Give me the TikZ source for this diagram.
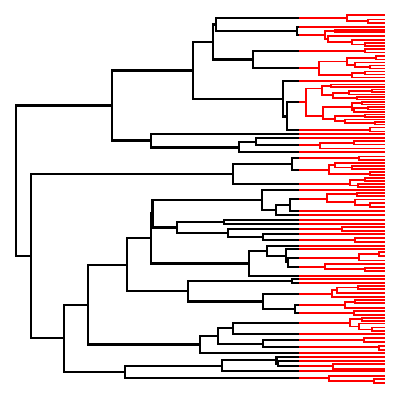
\documentclass[tikz,border=0pt]{standalone}
\usetikzlibrary{calc}
\def\xcut{299}
\def\xtip{384.5}
\tikzset{blk/.style={black,line width=1.65pt},rd/.style={red,line width=1.3pt}}
% bracket: x, y1, x1, y2, x2
\newcommand{\bb}[5]{\draw[blk] (#3,#2) -- (#1,#2) -- (#1,#4) -- (#5,#4);}
\newcommand{\rb}[5]{\draw[rd] (#3,#2) -- (#1,#2) -- (#1,#4) -- (#5,#4);}
\newcommand{\rr}[2]{\draw[rd] (\xcut,#1) -- (#2,#1);}
\newcommand{\rt}[1]{\draw[rd] (\xcut,#1) -- (\xtip,#1);}
\begin{document}
\begin{tikzpicture}[x=0.25mm,y=-0.25mm]
\useasboundingbox (0,0) rectangle (400,399);
% ---------------- red subtrees ----------------
% R1
\rr{18}{347} \rb{347}{15}{\xtip}{21.25}{368} \rb{368}{19.5}{\xtip}{23}{\xtip}
% R2
\rt{27.3}
% R3
\rr{35}{325} \rb{325}{31}{335}{39}{328} \rb{335}{29.8}{\xtip}{32.3}{\xtip}
\rb{328}{36}{\xtip}{42}{352} \rb{352}{40}{\xtip}{44.5}{365} \rb{365}{43}{\xtip}{46}{\xtip}
% R4
\rr{50.7}{365} \rb{365}{49}{\xtip}{52.5}{\xtip}
% R5
\rr{68}{319} \rb{319}{61.5}{347}{75}{352} \rb{347}{58}{376}{64.75}{355}
\rb{376}{56.3}{\xtip}{59.5}{\xtip} \rb{355}{62.5}{\xtip}{67}{370} \rb{370}{65.5}{\xtip}{68.5}{\xtip}
\rb{352}{73}{365}{77.5}{\xtip} \rb{365}{71.5}{\xtip}{74.5}{\xtip}
% R6
\rt{81.3}
% R7
\rr{102}{306} \rb{306}{88.5}{322}{116}{323}
\rb{322}{85.75}{331}{95.4}{333} \rb{331}{84.5}{\xtip}{87}{\xtip}
\rb{333}{92.6}{349}{98.25}{357} \rb{349}{90.75}{372}{94.5}{\xtip}
\rb{372}{89.5}{\xtip}{92}{\xtip} \rb{357}{97}{\xtip}{99.5}{\xtip}
\rb{323}{106.7}{352}{118.6}{335} \rb{352}{103.25}{362}{110.1}{354}
\rb{362}{102}{\xtip}{104.5}{\xtip} \rb{354}{108.25}{368}{112}{\xtip}
\rb{368}{107}{\xtip}{109.5}{\xtip} \rb{335}{115.75}{365}{121.4}{345}
\rb{365}{114.5}{\xtip}{117}{\xtip} \rb{345}{119.5}{\xtip}{123.25}{375}
\rb{375}{122}{\xtip}{124.5}{\xtip}
% R8-R12
\rr{129.7}{370} \rb{370}{127.5}{\xtip}{131.5}{\xtip}
\rt{134.3}
\rt{138}
\rr{145.3}{320} \rb{320}{143}{354}{148.5}{\xtip} \rb{354}{141.3}{\xtip}{144.5}{\xtip}
\rt{152.3}
% R13-R15
\rr{158}{359} \rb{359}{156.5}{\xtip}{160}{\xtip}
\rr{170}{329} \rb{329}{165}{335}{173.6}{370} \rb{335}{163}{\xtip}{167.5}{352}
\rb{352}{166}{\xtip}{169}{\xtip} \rb{370}{172}{\xtip}{175.3}{\xtip}
\rr{183.7}{350} \rb{350}{179.6}{365}{185.5}{358} \rb{365}{178.3}{\xtip}{181}{\xtip}
\rb{358}{184}{\xtip}{187}{\xtip}
% R16-R21
\rt{189.8}
\rr{199.3}{327} \rb{327}{194.3}{357}{202.4}{355} \rb{357}{192.8}{\xtip}{195.8}{\xtip}
\rb{355}{199.5}{\xtip}{205.3}{370} \rb{370}{203.3}{\xtip}{207.3}{\xtip}
\rt{211.3}
\rt{215.3}
\rt{219.7}
\rt{223.7}
% R22-R31
\rr{229.3}{342} \rb{342}{227}{\xtip}{231.3}{\xtip}
\rt{234.3}
\rr{240}{355} \rb{355}{237.6}{\xtip}{242.2}{\xtip}
\rt{246}
\rt{249.3}
\rr{257.7}{359} \rb{359}{254.3}{379}{260.5}{\xtip} \rb{379}{252.3}{\xtip}{256.3}{\xtip}
\rr{266.7}{325} \rb{325}{264.3}{\xtip}{269.3}{365} \rb{365}{267.6}{\xtip}{271}{\xtip}
\rt{276}
\rt{279.3}
\rt{282.7}
% R32-R44
\rr{294}{332} \rb{332}{290}{337}{297.3}{\xtip} \rb{337}{287.5}{358}{292.6}{\xtip}
\rb{358}{285.8}{\xtip}{289.2}{\xtip}
\rr{305}{345} \rb{345}{301.7}{355}{308}{\xtip} \rb{355}{300}{\xtip}{303.4}{\xtip}
\rr{313.3}{354} \rb{354}{311.3}{\xtip}{314.8}{\xtip}
\rr{322.7}{350} \rb{350}{319.3}{362}{326.5}{359} \rb{362}{318}{\xtip}{320.8}{\xtip}
\rb{359}{323.5}{\xtip}{329.5}{372} \rb{372}{327.5}{\xtip}{331}{\xtip}
\rt{334.3}
\rr{340}{364} \rb{364}{338}{\xtip}{342.3}{\xtip}
\rr{347.3}{379} \rb{379}{345.6}{\xtip}{349.6}{\xtip}
\rt{353.3}
\rt{356.7}
\rt{360.7}
\rr{366.3}{333} \rb{333}{364}{\xtip}{369}{\xtip}
\rt{371.3}
\rr{378}{329} \rb{329}{375.6}{\xtip}{381}{374} \rb{374}{379}{\xtip}{383}{\xtip}
% ---------------- black backbone ----------------
\bb{16}{105.5}{112}{256}{31}
\bb{112}{70.5}{193}{140.5}{151}
\bb{193}{41.7}{213}{99}{283}
\bb{213}{24.5}{216}{59.4}{253}
\bb{216}{18}{\xcut}{31}{297}
\bb{297}{27.3}{\xcut}{35}{\xcut}
\bb{253}{50.7}{\xcut}{68}{\xcut}
\bb{283}{81.3}{\xcut}{116.5}{287}
\bb{287}{102}{\xcut}{129.7}{\xcut}
\bb{151}{134.3}{\xcut}{147.5}{239}
\bb{239}{141.7}{256}{152.3}{\xcut}
\bb{256}{138}{\xcut}{145.3}{\xcut}
\bb{31}{173.9}{233}{338.3}{64}
\bb{233}{164}{292}{183.7}{\xcut}
\bb{292}{158}{\xcut}{170}{\xcut}
\bb{64}{304.7}{88}{371.9}{125}
\bb{88}{264.8}{127}{344.6}{200}
\bb{127}{238.3}{151}{291.3}{188}
\bb{151}{213.6}{152.5}{263.4}{249}
\bb{152.5}{199.8}{262}{227.5}{177}
\bb{262}{189.8}{\xcut}{210.3}{276}
\bb{276}{205.3}{290}{215.3}{\xcut}
\bb{290}{199.3}{\xcut}{211.3}{\xcut}
\bb{177}{221.7}{224}{233.2}{228}
\bb{224}{219.7}{\xcut}{223.7}{\xcut}
\bb{228}{229.3}{\xcut}{237.2}{263}
\bb{263}{234.3}{\xcut}{240}{\xcut}
\bb{249}{250.9}{267}{276}{\xcut}
\bb{267}{246}{\xcut}{255.8}{286}
\bb{286}{249.3}{\xcut}{262.2}{288}
\bb{288}{257.7}{\xcut}{266.7}{\xcut}
\bb{188}{281}{292}{301.5}{263}
\bb{292}{279.3}{\xcut}{282.7}{\xcut}
\bb{263}{294}{\xcut}{309.2}{295}
\bb{295}{305}{\xcut}{313.3}{\xcut}
\bb{200}{336.3}{218}{353.3}{\xcut}
\bb{218}{328.3}{233}{343.7}{263}
\bb{233}{322.7}{\xcut}{334.3}{\xcut}
\bb{263}{340}{\xcut}{347.3}{\xcut}
\bb{125}{365.7}{222}{378}{\xcut}
\bb{222}{360}{276.5}{371.3}{\xcut}
\bb{276.5}{356.7}{\xcut}{363.5}{278}
\bb{278}{360.7}{\xcut}{366.3}{\xcut}
\end{tikzpicture}
\end{document}
